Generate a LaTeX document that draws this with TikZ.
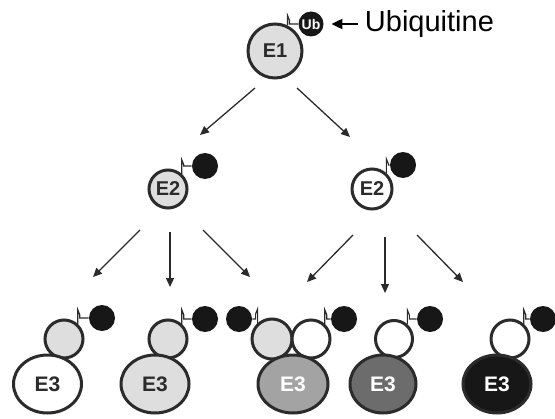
\documentclass[tikz,border=0pt]{standalone}
\usepackage{fontspec}
\setmainfont{Liberation Sans}
\usetikzlibrary{shapes.geometric,positioning,arrows.meta}
\definecolor{ringgray}{HTML}{2B2B2B}
\definecolor{palegray}{HTML}{DEDEDE}
\definecolor{midgray}{HTML}{A3A3A3}
\definecolor{deepgray}{HTML}{6C6C6C}
\definecolor{ubblack}{HTML}{171717}
\tikzset{
  enzyme/.style={circle,draw=ringgray,line width=1.5pt,inner sep=0pt,
    font=\fontsize{10}{11}\selectfont\bfseries,text=ringgray},
  ligase/.style={ellipse,draw=ringgray,line width=1.5pt,inner sep=0pt,
    minimum width=34pt,minimum height=29pt,
    font=\fontsize{10.5}{11}\selectfont\bfseries,text=ringgray},
  ubball/.style={circle,fill=ubblack,inner sep=0pt,minimum size=13pt},
  link/.style={draw=ringgray,line width=0.6pt},
  ublink/.style={to path={-- ++(0,14) -- ++(2,-5) |- (\tikztotarget)}},
  ublinkl/.style={to path={-- ++(0,14) -- ++(-2,-5) |- (\tikztotarget)}},
  cascade/.style={draw=ringgray,line width=0.65pt,-{Triangle[length=4.5pt,width=4pt]}},
}

\begin{document}
\begin{tikzpicture}[x=0.5pt,y=0.5pt]
\useasboundingbox (0,0) rectangle (555,418);

% E1 carrying ubiquitine
\node[enzyme,fill=palegray,minimum size=27pt] (e1) at (275,367) {E1};
\node[ubball,minimum size=12.5pt,text=white,font=\fontsize{7}{7}\selectfont\bfseries] (ub) at (311,394) {Ub};
\node[right=17pt of ub,font=\fontsize{14.5}{15}\selectfont] (ubtext) {Ubiquitine};
\draw[link] (e1.64) -- ++(0,10) -- ++(2,-5) |- (ub.west);
\draw[line width=1pt,-{Triangle[length=5.5pt,width=5pt]},shorten >=3.75pt] (ubtext) -- (ub);

% E2 level
\node[enzyme,fill=palegray,minimum size=19pt] (e2a) at (168,229) {E2};
\node[ubball] (ub2a) at (205,252) {};
\node[enzyme,fill=white,minimum size=20pt] (e2b) at (372,229) {E2};
\node[ubball] (ub2b) at (403,253) {};
\draw[link] (e2a.48) to[ublink] (ub2a.west);
\draw[link] (e2b.48) to[ublink] (ub2b.west);

% E2 carriers on the E3s
\node[enzyme,fill=palegray,minimum size=19pt] (c1) at (64,79) {};
\node[ubball] (b1) at (102,100) {};
\node[enzyme,fill=palegray,minimum size=19pt] (c2) at (168,79) {};
\node[ubball] (b2) at (205,99) {};
\node[enzyme,fill=palegray,minimum size=20pt] (c3) at (272,79) {};
\node[ubball] (b3) at (239,99) {};
\node[enzyme,fill=white,minimum size=19pt] (c4) at (311,79) {};
\node[ubball] (b4) at (344,99) {};
\node[enzyme,fill=white,minimum size=18.5pt] (c5) at (394,79) {};
\node[ubball] (b5) at (430,99) {};
\node[enzyme,fill=white,minimum size=19pt] (c6) at (510,79) {};
\node[ubball] (b6) at (543,99) {};
\draw[link] (c1.48) to[ublink] (b1.west);
\draw[link] (c2.48) to[ublink] (b2.west);
\draw[link] (c3.132) to[ublinkl] (b3.east);
\draw[link] (c4.48) to[ublink] (b4.west);
\draw[link] (c5.48) to[ublink] (b5.west);
\draw[link] (c6.48) to[ublink] (b6.west);

% E3 level
\node[ligase,fill=white] (e3a) at (47.5,34) {E3};
\node[ligase,fill=palegray] (e3b) at (155,34) {E3};
\node[ligase,fill=midgray,text=white,minimum width=35pt] (e3c) at (293,34) {E3};
\node[ligase,fill=deepgray,text=white,minimum width=33pt] (e3d) at (383,34) {E3};
\node[ligase,fill=ubblack,text=white] (e3e) at (497,34) {E3};

% cascade arrows
\foreach \n/\sx/\sy/\tx/\ty in {1/255/330/200/283, 2/297/330/350/281,
    3/140/188/93/141, 4/170/186/170/131, 5/203/188/250/141,
    6/353/183/307/136, 7/385/181/385/125, 8/417/183/463/136}{
  \coordinate (t\n) at (\sx,\sy);
  \coordinate (h\n) at (\tx,\ty);
  \draw[cascade] (t\n) -- (h\n);
}

\end{tikzpicture}
\end{document}
